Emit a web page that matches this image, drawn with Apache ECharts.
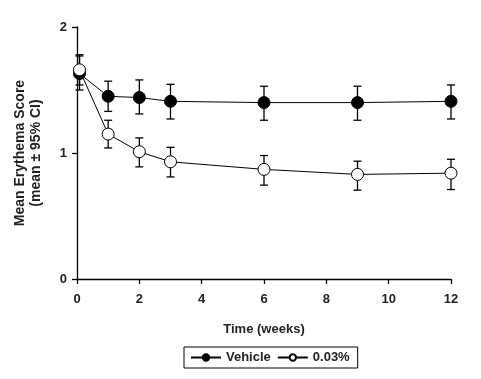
<!DOCTYPE html>
<html><head><meta charset="utf-8">
<script src="https://cdn.jsdelivr.net/npm/echarts@6/dist/echarts.min.js"></script>
<style>html,body{margin:0;padding:0;background:#fff}#c{width:481px;height:379px}</style>
</head><body><div id="c"></div>
<script>
const weeks = [0.08, 1, 2, 3, 6, 9, 12];
const vehicleMean = [1.63, 1.45, 1.44, 1.41, 1.40, 1.40, 1.41];
const vehicleLow  = [1.50, 1.33, 1.31, 1.27, 1.26, 1.26, 1.27];
const vehicleHigh = [1.77, 1.57, 1.58, 1.545, 1.53, 1.53, 1.54];
const drugMean = [1.66, 1.15, 1.01, 0.93, 0.87, 0.83, 0.84];
const drugLow  = [1.54, 1.04, 0.89, 0.81, 0.745, 0.705, 0.71];
const drugHigh = [1.78, 1.26, 1.12, 1.045, 0.98, 0.935, 0.95];
const xTicks = [0, 2, 4, 6, 8, 10, 12];
const yTicks = [0, 1, 2];

const font = 'Liberation Sans, Arial, sans-serif';
const chart = echarts.init(document.getElementById('c'));

function errSeries(name, lo, hi) {
  return {
    type: 'custom', name: name + ' CI', z: 1, silent: true,
    data: weeks.map((w, i) => [w, lo[i], hi[i]]),
    renderItem: function (params, api) {
      const top = api.coord([api.value(0), api.value(2)]);
      const bot = api.coord([api.value(0), api.value(1)]);
      const hw = 4;
      const st = { stroke: '#000', lineWidth: 1.3 };
      return { type: 'group', children: [
        { type: 'line', shape: { x1: top[0], y1: top[1], x2: bot[0], y2: bot[1] }, style: st },
        { type: 'line', shape: { x1: top[0] - hw, y1: top[1], x2: top[0] + hw, y2: top[1] }, style: st },
        { type: 'line', shape: { x1: bot[0] - hw, y1: bot[1], x2: bot[0] + hw, y2: bot[1] }, style: st }
      ]};
    }
  };
}

chart.setOption({
  animation: false,
  backgroundColor: '#fff',
  grid: { left: 77, right: 30, top: 27, bottom: 100 },
  xAxis: {
    type: 'value', min: 0, max: 12, interval: 2,
    name: 'Time (weeks)', nameLocation: 'middle', nameGap: 44,
    nameTextStyle: { fontFamily: font, fontWeight: 'bold', fontSize: 13, color: '#222' },
    axisLine: { lineStyle: { color: '#000', width: 1.3 } },
    axisTick: { length: 5, lineStyle: { color: '#000', width: 1.3 } },
    axisLabel: { fontFamily: font, fontWeight: 'bold', fontSize: 13, color: '#222', margin: 14,
      formatter: v => xTicks.includes(v) ? String(v) : '' },
    splitLine: { show: false }
  },
  yAxis: {
    type: 'value', min: 0, max: 2, interval: 1,
    name: 'Mean Erythema Score\n(mean ± 95% CI)', nameLocation: 'middle', nameGap: 33, nameRotate: 90,
    nameTextStyle: { fontFamily: font, fontWeight: 'bold', fontSize: 14, color: '#222', lineHeight: 16 },
    axisLine: { show: true, lineStyle: { color: '#000', width: 1.3 } },
    axisTick: { show: true, length: 5, lineStyle: { color: '#000', width: 1.3 } },
    axisLabel: { fontFamily: font, fontWeight: 'bold', fontSize: 13, color: '#222', margin: 10,
      formatter: v => yTicks.includes(v) ? String(v) : '' },
    splitLine: { show: false }
  },
  legend: {
    left: 184, top: 347, width: 168, height: 21,
    padding: [4, 8, 4, 6],
    borderColor: '#000', borderWidth: 1, borderRadius: 0,
    itemWidth: 30, itemHeight: 8, itemGap: 6,
    textStyle: { fontFamily: font, fontWeight: 'bold', fontSize: 13, color: '#222' },
    data: ['Vehicle', '0.03%']
  },
  series: [
    errSeries('Vehicle', vehicleLow, vehicleHigh),
    errSeries('0.03%', drugLow, drugHigh),
    {
      name: 'Vehicle', type: 'line', z: 3,
      data: weeks.map((w, i) => [w, vehicleMean[i]]),
      symbol: 'circle', symbolSize: 12,
      lineStyle: { color: '#000', width: 1 },
      itemStyle: { color: '#000', borderColor: '#000', borderWidth: 1 }
    },
    {
      name: '0.03%', type: 'line', z: 4,
      data: weeks.map((w, i) => [w, drugMean[i]]),
      symbol: 'circle', symbolSize: 12,
      lineStyle: { color: '#000', width: 1 },
      itemStyle: { color: '#fff', borderColor: '#000', borderWidth: 1 }
    }
  ]
});
</script></body></html>
